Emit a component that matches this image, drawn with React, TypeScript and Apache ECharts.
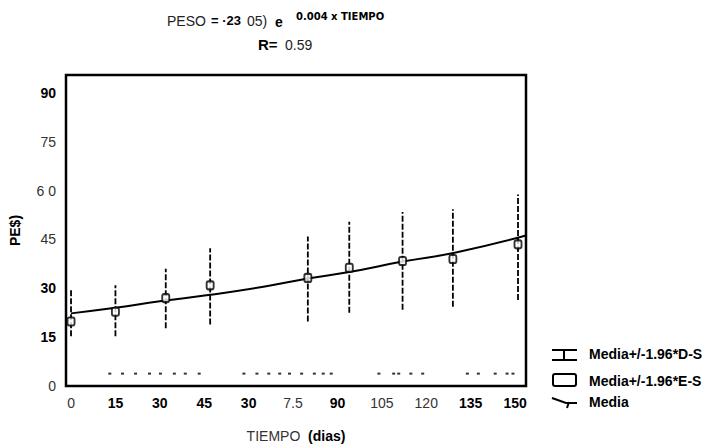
import React, { useEffect, useRef } from "react";
import * as echarts from "echarts";

// Sampling times (days) and statistics
const times = [0, 15, 32, 47, 80, 94, 112, 129, 151];
const means = [19.8, 22.8, 27, 30.9, 33.2, 36.3, 38.4, 39, 43.5];
const lowDS = [15.3, 15.3, 17.7, 18.9, 19.8, 22.5, 23.4, 24.3, 26.4];
const highDS = [29.4, 30.9, 36, 42.3, 45.9, 50.4, 53.4, 54.3, 58.8];

// Fitted curve
const fitT = [0, 15, 30, 47, 65, 80, 94, 112, 130, 153.7];
const fitV = [22.3, 24, 26, 28, 30.5, 33, 35, 38.2, 41, 46.2];

// small marks along the bottom of the plot
const markT = [13.1, 17.4, 21.8, 26.5, 30.2, 34.9, 38.6, 43.3, 58.4, 62.8, 66.8, 70.5, 73.8, 77.9, 82.2, 85.2, 87.9, 104, 109, 110.7, 114.8, 118.8, 133.9, 137.6, 143.3, 147.3, 149.3];
const markV = 3.8;

// Tick labels (as printed, with their weights)
const xTickValues = [0, 15, 30, 45, 60, 75, 90, 105, 120, 135, 150];
const xTickLabels = ["0", "15", "30", "45", "30", "7.5", "90", "105", "120", "135", "150"];
const xTickBold = [false, true, true, true, true, false, true, false, false, true, true];
const yTickValues = [0, 15, 30, 45, 60, 75, 90];
const yTickLabels = ["0", "15", "30", "45", "6 0", "75", "90"];
const yTickBold = [false, true, true, false, false, false, true];

const legendLabels = ["Media+/-1.96*D-S", "Media+/-1.96*E-S", "Media"];

const FONT = "Liberation Sans, Arial, sans-serif";

export default function App() {
  const ref = useRef<HTMLDivElement>(null);
  useEffect(() => {
    if (!ref.current) return;
    const chart = echarts.init(ref.current, null, { renderer: "svg" });
    const rich = {
      r: { fontFamily: FONT, fontSize: 14, color: "#333" },
      b: { fontFamily: FONT, fontSize: 14, fontWeight: "bold", color: "#000" },
    };
    const option: any = {
      animation: false,
      backgroundColor: "#fff",
      grid: {
        left: 63,
        top: 75,
        right: 187,
        bottom: 54,
        show: true,
        borderColor: "#000",
        borderWidth: 2.5,
      },
      xAxis: {
        type: "value",
        min: -1.7,
        max: 153.7,
        axisLine: { show: false },
        axisTick: { show: false },
        splitLine: { show: false },
        axisLabel: {
          customValues: xTickValues,
          margin: 10,
          formatter: (v: number) => {
            const i = xTickValues.indexOf(Math.round(v));
            if (i < 0) return "";
            return (xTickBold[i] ? "{b|" : "{r|") + xTickLabels[i] + "}";
          },
          rich,
        },
        name: "{r|TIEMPO  }{b|(dias)}",
        nameLocation: "middle",
        nameGap: 43,
        nameTextStyle: { rich },
      },
      yAxis: {
        type: "value",
        min: 0,
        max: 95.5,
        axisLine: { show: false },
        axisTick: { show: false },
        splitLine: { show: false },
        axisLabel: {
          customValues: yTickValues,
          margin: 10,
          formatter: (v: number) => {
            const i = yTickValues.indexOf(Math.round(v));
            if (i < 0) return "";
            return (yTickBold[i] ? "{b|" : "{r|") + yTickLabels[i] + "}";
          },
          rich,
        },
        name: "PE$)",
        nameLocation: "middle",
        nameRotate: 90,
        nameGap: 44,
        nameTextStyle: { fontFamily: FONT, fontSize: 14, fontWeight: "bold", color: "#000" },
      },
      series: [
        {
          type: "custom",
          data: times.map((t, i) => [t, lowDS[i], highDS[i]]),
          renderItem: (params: any, api: any) => {
            const x = api.value(0);
            const p1 = api.coord([x, api.value(1)]);
            const p2 = api.coord([x, api.value(2)]);
            return {
              type: "line",
              shape: { x1: p1[0], y1: p1[1], x2: p2[0], y2: p2[1] },
              style: { stroke: "#000", lineWidth: 1.8, lineDash: [6, 2] },
            };
          },
          z: 2,
        },
        {
          type: "line",
          data: fitT.map((t, i) => [t, fitV[i]]),
          smooth: true,
          showSymbol: false,
          lineStyle: { color: "#000", width: 2 },
          z: 3,
        },
        {
          type: "scatter",
          data: times.map((t, i) => [t, means[i]]),
          symbol: "roundRect",
          symbolSize: [7, 8],
          itemStyle: { color: "#fff", borderColor: "#000", borderWidth: 2 },
          z: 4,
        },
        {
          type: "scatter",
          data: markT.map((t) => [t, markV]),
          symbol: "rect",
          symbolSize: [3, 2],
          itemStyle: { color: "#000" },
          z: 2,
        },
      ],
      graphic: [
        // Title, line 1
        { type: "text", left: 167, top: 14, style: { text: "PESO", font: `14px ${FONT}`, fill: "#222" } },
        { type: "text", left: 211, top: 14, style: { text: "= ·23", font: `bold 13px ${FONT}`, fill: "#000" } },
        { type: "text", left: 247, top: 14, style: { text: "05)", font: `14px ${FONT}`, fill: "#222" } },
        { type: "text", left: 275, top: 15, style: { text: "e", font: `bold 14px ${FONT}`, fill: "#000" } },
        { type: "text", left: 296, top: 11, style: { text: "0.004 x TIEMPO", font: `bold 10px DejaVu Sans, sans-serif`, fill: "#000" } },
        // Title, line 2
        { type: "text", left: 258, top: 37, style: { text: "R=", font: `bold 15px ${FONT}`, fill: "#000" } },
        { type: "text", left: 285, top: 38, style: { text: "0.59", font: `14px ${FONT}`, fill: "#222" } },
        // Legend icons
        { type: "line", shape: { x1: 552, y1: 350, x2: 577, y2: 350 }, style: { stroke: "#000", lineWidth: 2 } },
        { type: "line", shape: { x1: 564, y1: 350, x2: 564, y2: 360 }, style: { stroke: "#000", lineWidth: 2 } },
        { type: "line", shape: { x1: 552, y1: 360, x2: 577, y2: 360 }, style: { stroke: "#000", lineWidth: 2 } },
        { type: "rect", shape: { x: 553, y: 374, width: 23, height: 12, r: 2 }, style: { fill: "#fff", stroke: "#000", lineWidth: 2 } },
        { type: "polyline", shape: { points: [[552, 398], [566, 403], [577, 403]] }, style: { stroke: "#000", lineWidth: 2, fill: null } },
        { type: "line", shape: { x1: 569, y1: 402, x2: 567, y2: 408 }, style: { stroke: "#000", lineWidth: 2 } },
        // Legend labels
        { type: "text", left: 589, top: 347, style: { text: legendLabels[0], font: `bold 14px ${FONT}`, fill: "#000" } },
        { type: "text", left: 589, top: 374, style: { text: legendLabels[1], font: `bold 14px ${FONT}`, fill: "#000" } },
        { type: "text", left: 589, top: 395, style: { text: legendLabels[2], font: `bold 14px ${FONT}`, fill: "#000" } },
      ],
    };
    chart.setOption(option);
    return () => chart.dispose();
  }, []);
  return <div ref={ref} style={{ width: 713, height: 448, position: "absolute", left: 0, top: 0 }} />;
}
